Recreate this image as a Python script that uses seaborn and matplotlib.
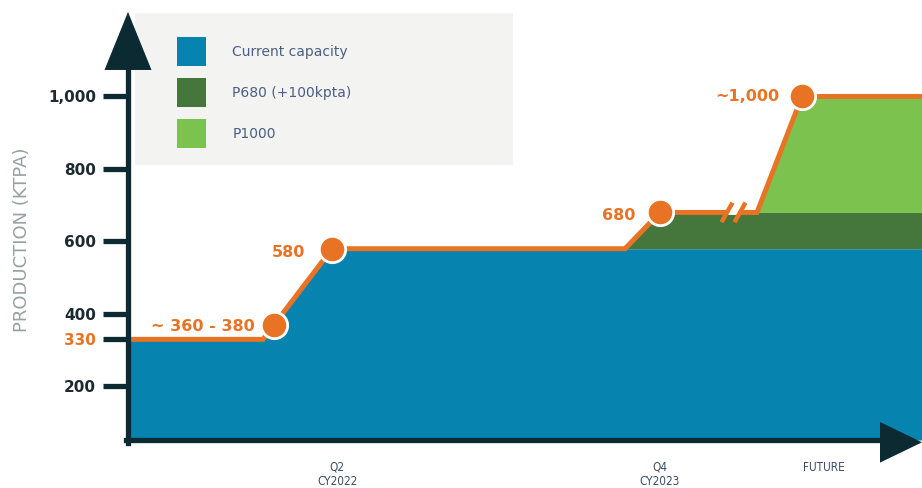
import numpy as np
import pandas as pd
import matplotlib
matplotlib.use("Agg")
import matplotlib.pyplot as plt
from matplotlib.patches import Patch, Rectangle, Polygon
import seaborn as sns

# ---------------- data ----------------
timeline_x = [0, 13.5, 20.4, 49.7, 53.2, 62.9, 67.4, 79.4]
current_capacity = [330, 330, 580, 580, 580, 580, 580, 580]
p680_total = [330, 330, 580, 580, 680, 680, 680, 680]
p1000_total = [330, 330, 580, 580, 680, 680, 1000, 1000]

milestone_x = [14.6, 20.4, 53.2, 67.4]
milestone_val = [370, 580, 680, 1000]
milestone_lbl = ["~ 360 - 380", "580", "680", "~1,000"]

ytick_vals = [200, 330, 400, 600, 800, 1000]
ytick_lbls = ["200", "330", "400", "600", "800", "1,000"]

xtick_pos = [20.9, 53.2, 69.6]
xtick_lbls = ["Q2\nCY2022", "Q4\nCY2023", "FUTURE"]

legend_lbls = ["Current capacity", "P680 (+100kpta)", "P1000"]

# ---------------- style ----------------
DARK = "#0c2a31"
BLUE = "#0683ae"
DGREEN = "#45763b"
LGREEN = "#7cc24f"
ORANGE = "#e97325"
LEGBG = "#f3f3f2"
LEGTXT = "#4b5f82"

sns.set_theme(style="white")
plt.rcParams["font.family"] = ["DejaVu Sans"]

W, H = 922, 488
fig = plt.figure(figsize=(W / 100, H / 100), dpi=100)
ax = fig.add_axes([128 / W, 48 / H, (W - 128) / W, 440 / H])
ax.patch.set_alpha(0)

YMIN, YMAX = 52.4, 1266
ax.set_xlim(0, 79.4)
ax.set_ylim(YMIN, YMAX)

x = np.array(timeline_x)
ax.fill_between(x, YMIN, current_capacity, color=BLUE, lw=0, zorder=1)
ax.fill_between(x, current_capacity, p680_total, color=DGREEN, lw=0, zorder=1)
ax.fill_between(x, p680_total, p1000_total, color=LGREEN, lw=0, zorder=1)

df = pd.DataFrame({"x": timeline_x, "total": p1000_total})
sns.lineplot(data=df, x="x", y="total", ax=ax, color=ORANGE, lw=3.6,
             sort=False, zorder=3, solid_joinstyle="miter")

# break marks on the 680 plateau
bx = 60.55
ax.plot([bx - 0.55, bx + 0.55], [680, 680], color="white", lw=4.2,
        solid_capstyle="butt", zorder=4)
for dx in (-0.65, 0.65):
    ax.plot([bx + dx - 0.55, bx + dx + 0.55], [680 - 27, 680 + 27],
            color=ORANGE, lw=3.2, solid_capstyle="butt", zorder=5)

mdf = pd.DataFrame({"x": milestone_x, "v": milestone_val})
sns.scatterplot(data=mdf, x="x", y="v", ax=ax, s=360, color=ORANGE,
                edgecolor="white", linewidth=2, zorder=6, clip_on=False)
offsets = [(-14, -1), (-19, -3), (-18, -2), (-16, 0)]
for xx, vv, lbl, off in zip(milestone_x, milestone_val, milestone_lbl, offsets):
    ax.annotate(lbl, (xx, vv), xytext=off, textcoords="offset points",
                ha="right", va="center", color=ORANGE, fontsize=11.5,
                fontweight="bold", zorder=7)

# axes / spines
for s in ("top", "right"):
    ax.spines[s].set_visible(False)
for s in ("left", "bottom"):
    ax.spines[s].set_color(DARK)
    ax.spines[s].set_linewidth(3.8)
    ax.spines[s].set_zorder(8)
ax.spines["left"].set_bounds(YMIN - 8, 1100)
ax.spines["bottom"].set_bounds(-0.25, 76)

# arrowheads
ax.add_patch(Polygon([[0, 1233], [-2.35, 1073], [2.35, 1073]], closed=True,
                     color=DARK, clip_on=False, zorder=9, lw=0))
ax.add_patch(Polygon([[79.4, 46], [75.2, 102], [75.2, -10]], closed=True,
                     color=DARK, clip_on=False, zorder=9, lw=0))

ax.set_yticks(ytick_vals, ytick_lbls)
ax.tick_params(axis="y", length=18, width=3.8, color=DARK, pad=5,
               labelsize=11, labelcolor="#1d2b31", left=True)
for t, v in zip(ax.yaxis.get_major_ticks(), ytick_vals):
    t.label1.set_fontweight("bold")
    if v == 330:
        t.tick1line.set_color(ORANGE)
        t.label1.set_color(ORANGE)

ax.set_xticks(xtick_pos, xtick_lbls)
ax.tick_params(axis="x", length=0, pad=15, labelsize=8.5, labelcolor="#3a4d6a")
for lab in ax.get_xticklabels():
    lab.set_linespacing(1.1)
    lab.set_fontstretch("condensed")
ax.set_xlabel("")
ax.set_ylabel("")

fig.text(22 / W, 1 - 240 / H, "PRODUCTION (KTPA)", rotation=90, ha="center",
         va="center", color="#97a0a3", fontsize=13)

# legend
fig.add_artist(Rectangle((135 / W, 1 - 165 / H), 378 / W, 152 / H,
                         transform=fig.transFigure, facecolor=LEGBG,
                         edgecolor="none", zorder=-1))
handles = [Patch(facecolor=c, edgecolor="none") for c in (BLUE, DGREEN, LGREEN)]
fs = 10
leg = ax.legend(handles, legend_lbls, loc="upper left",
                bbox_to_anchor=(177 / W, 1 - 37 / H),
                bbox_transform=fig.transFigure, frameon=False, fontsize=fs,
                handlelength=2.08, handleheight=2.84, labelspacing=0.86,
                handletextpad=1.9, borderpad=0, borderaxespad=0)
for t in leg.get_texts():
    t.set_color(LEGTXT)

fig.savefig("out.png", dpi=100)
